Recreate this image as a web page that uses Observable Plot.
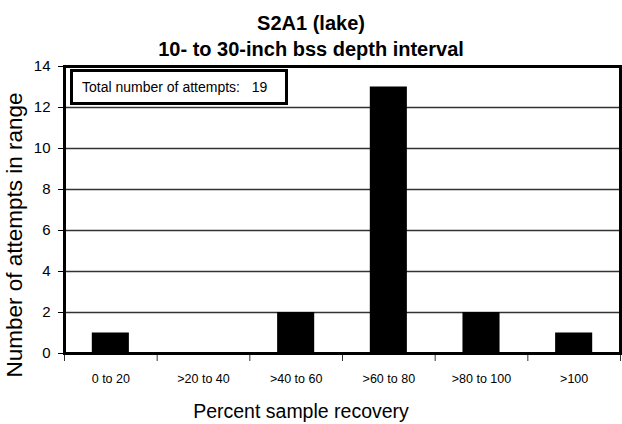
<!DOCTYPE html>
<html><head><meta charset="utf-8">
<script src="https://cdn.jsdelivr.net/npm/d3@7"></script>
<script src="https://cdn.jsdelivr.net/npm/@observablehq/plot@0.6"></script>
<style>
body{margin:0;background:#fff;font-family:"Liberation Sans",Arial,sans-serif;color:#000;}
#wrap{position:relative;width:622px;height:424px;overflow:hidden;background:#fff;}
#chart{position:absolute;left:0;top:0;}
#title{position:absolute;left:0;top:10px;width:622px;text-align:center;font-weight:bold;font-size:20px;line-height:26px;}
#xtitle{position:absolute;left:301px;top:402px;transform:translateX(-50%);font-size:19.5px;line-height:19.5px;white-space:nowrap;}
#ytitle{position:absolute;left:15px;top:235px;transform:translate(-50%,-50%) rotate(-90deg);font-size:22.5px;line-height:22.5px;white-space:nowrap;}
#legend{position:absolute;left:70px;top:69px;width:218px;height:36px;box-sizing:border-box;border:3px solid #000;background:#fff;font-size:14px;line-height:30px;padding-left:9px;white-space:pre;}
</style>
</head><body>
<div id="wrap">
  <div id="chart"></div>
  <div id="title"></div>
  <div id="ytitle"></div>
  <div id="xtitle"></div>
  <div id="legend"></div>
</div>
<script>
const titleLines = ["S2A1 (lake)", "10- to 30-inch bss depth interval"];
const categories = ["0 to 20", ">20 to 40", ">40 to 60", ">60 to 80", ">80 to 100", ">100"];
const counts = [1, 0, 2, 13, 2, 1];
const yTicks = [0, 2, 4, 6, 8, 10, 12, 14];
const gridValues = [2, 4, 6, 8, 10, 12];
const yLabel = "Number of attempts in range";
const xLabel = "Percent sample recovery";
const legendText = "Total number of attempts:   19";

const data = categories.map((c, i) => ({i, category: c, count: counts[i]}));
const boundaries = d3.range(categories.length + 1);
const centers = categories.map((c, i) => i + 0.5);

const chart = Plot.plot({
  width: 622,
  height: 424,
  marginTop: 66,
  marginBottom: 71,
  marginLeft: 64,
  marginRight: 2,
  style: {fontFamily: '"Liberation Sans", Arial, sans-serif', color: "#000", background: "#fff"},
  x: {type: "linear", domain: [0, categories.length]},
  y: {domain: [0, 14]},
  marks: [
    Plot.ruleY(gridValues, {stroke: "#333", strokeWidth: 1.5}),
    Plot.rectY(data, {x1: d => d.i + 0.3, x2: d => d.i + 0.7, y: "count", fill: "#000"}),
    Plot.axisY({ticks: yTicks, tickSize: 6, tickPadding: 8, fontSize: 15, stroke: "#000", label: null}),
    Plot.axisX({ticks: boundaries, tickSize: 8, tickFormat: () => "", stroke: "#333", label: null}),
    Plot.axisX({ticks: centers, tickSize: 0, tickPadding: 21, fontSize: 12.5, tickFormat: d => categories[Math.floor(d)], label: null}),
    Plot.frame({stroke: "#000", strokeWidth: 3})
  ]
});
document.getElementById("chart").appendChild(chart);
document.getElementById("title").innerHTML = titleLines.map(t => `<div>${t}</div>`).join("");
document.getElementById("ytitle").textContent = yLabel;
document.getElementById("xtitle").textContent = xLabel;
document.getElementById("legend").textContent = legendText;
</script>
</body></html>
